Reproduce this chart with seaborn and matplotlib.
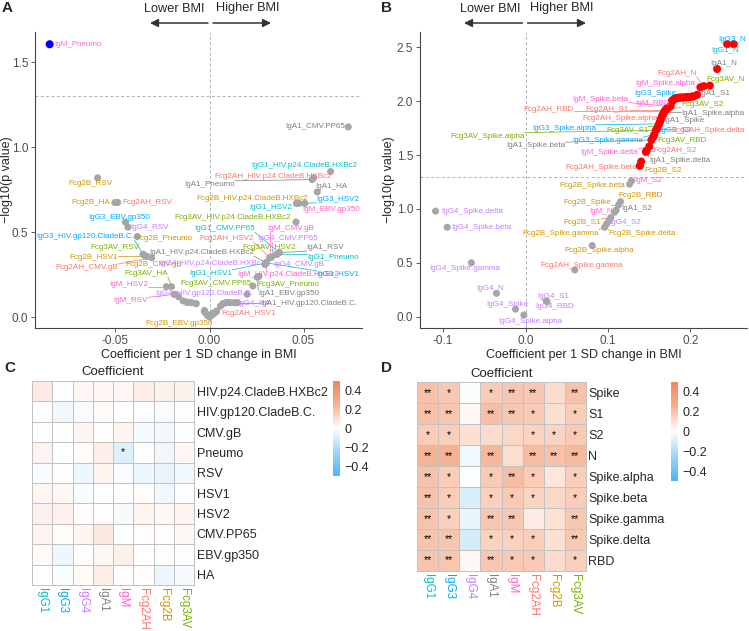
"""Volcano plots + heatmaps: antibody features vs BMI (panels A-D)."""

import matplotlib

matplotlib.use("Agg")
import matplotlib.pyplot as plt
import numpy as np
import pandas as pd
import seaborn as sns
from matplotlib.colors import LinearSegmentedColormap

sns.set_theme(style="white")
plt.rcParams["font.family"] = ["Liberation Sans", "DejaVu Sans"]

W, H = 749, 631

ISOTYPES = ["IgG1", "IgG3", "IgG4", "IgA1", "IgM", "Fcg2AH", "Fcg2B", "Fcg3AV"]
ISO_COLORS = ["#00BFC4", "#00A9FF", "#C77CFF", "#7F7F7F",
              "#FF61CC", "#F8766D", "#CD9600", "#7CAE00"]

# ---- panel A / C : non-SARS antigens ----
ANTIGENS_A = ["HIV.p24.CladeB.HXBc2", "HIV.gp120.CladeB.C.", "CMV.gB", "Pneumo",
              "RSV", "HSV1", "HSV2", "CMV.PP65", "EBV.gp350", "HA"]
COEF_A = [
    [0.0644, 0.0036, -0.0098, 0.0358, -0.0188, 0.0301, 0.0463, 0.0371, 0.0130, -0.0027],
    [-0.0072, -0.0353, 0.0009, -0.0027, 0.0018, 0.0301, 0.0507, 0.0107, -0.0447, -0.0119],
    [0.0295, -0.0164, 0.0321, 0.0072, -0.0434, -0.0140, 0.0089, 0.0331, 0.0000, 0.0148],
    [0.0301, 0.0148, 0.0009, 0.0545, 0.0371, -0.0009, 0.0018, 0.0738, 0.0254, 0.0573],
    [0.0301, -0.0025, 0.0321, -0.0850, -0.0184, 0.0038, -0.0229, -0.0018, 0.0476, 0.0072],
    [0.0554, -0.0096, -0.0308, 0.0000, -0.0488, 0.0058, 0.0321, 0.0090, -0.0009, 0.0108],
    [0.0463, -0.0119, -0.0332, -0.0384, -0.0595, -0.0340, 0.0200, 0.0000, 0.0014, -0.0503],
    [0.0460, 0.0018, -0.0071, 0.0263, -0.0353, 0.0027, 0.0357, 0.0231, 0.0009, -0.0202],
]
LOGP_A = [
    [0.857, 0.035, 0.086, 0.370, 0.135, 0.320, 0.670, 0.380, 0.086, 0.033],
    [0.080, 0.370, 0.010, 0.040, 0.020, 0.320, 0.670, 0.086, 0.560, 0.086],
    [0.310, 0.120, 0.350, 0.080, 0.530, 0.096, 0.086, 0.355, 0.005, 0.086],
    [0.320, 0.086, 0.015, 0.810, 0.380, 0.010, 0.020, 1.120, 0.235, 0.737],
    [0.320, 0.033, 0.350, 1.606, 0.135, 0.035, 0.180, 0.020, 0.670, 0.080],
    [0.820, 0.086, 0.350, 0.005, 0.675, 0.065, 0.350, 0.086, 0.010, 0.086],
    [0.670, 0.090, 0.357, 0.475, 0.820, 0.360, 0.135, 0.003, 0.017, 0.675],
    [0.560, 0.020, 0.080, 0.240, 0.370, 0.025, 0.370, 0.184, 0.010, 0.180],
]

# ---- panel B / D : SARS-CoV-2 antigens ----
ANTIGENS_B = ["Spike", "S1", "S2", "N", "Spike.alpha", "Spike.beta",
              "Spike.gamma", "Spike.delta", "RBD"]
COEF_B = [
    [0.204, 0.200, 0.167, 0.2444, 0.198, 0.195, 0.192, 0.190, 0.188],
    [0.176, 0.186, 0.160, 0.2525, 0.162, 0.164, 0.156, 0.185, 0.184],
    [-0.0121, 0.025, 0.101, -0.0352, -0.002, -0.0949, -0.0657, -0.109, 0.026],
    [0.165, 0.208, 0.110, 0.2323, 0.168, 0.1527, 0.183, 0.146, 0.182],
    [0.181, 0.180, 0.1285, 0.108, 0.212, 0.175, 0.179, 0.150, 0.172],
    [0.178, 0.170, 0.1467, 0.2162, 0.166, 0.1386, 0.0598, 0.159, 0.169],
    [0.113, 0.1034, 0.1402, 0.196, 0.0808, 0.1261, 0.0958, 0.0982, 0.1152],
    [0.2025, 0.161, 0.171, 0.2234, 0.158, 0.163, 0.178, 0.1775, 0.155],
]
LOGP_B = [
    [2.045, 2.040, 1.880, 2.530, 2.040, 2.038, 2.035, 2.035, 2.035],
    [1.960, 2.033, 1.755, 2.530, 1.790, 1.830, 1.690, 2.032, 2.031],
    [0.070, 0.146, 0.890, 0.217, 0.016, 0.830, 0.500, 0.980, 0.140],
    [1.850, 2.060, 0.990, 2.300, 1.900, 1.640, 2.030, 1.530, 2.030],
    [2.025, 2.020, 1.260, 0.970, 2.130, 1.950, 2.010, 1.580, 1.935],
    [2.005, 1.920, 1.540, 2.140, 1.870, 1.400, 0.434, 1.740, 1.910],
    [1.040, 0.920, 1.440, 2.040, 0.660, 1.230, 0.830, 0.860, 1.068],
    [2.045, 1.770, 1.930, 2.145, 1.730, 1.810, 2.003, 2.001, 1.670],
]

# label placement (repel result), data coords of the label centre
LABEL_POS_A = {
    "IgM_Pneumo": (-0.0701, 1.602),
    "IgA1_CMV.PP65": (0.0564, 1.12),
    "IgG1_HIV.p24.CladeB.HXBc2": (0.0505, 0.89),
    "Fcg2AH_HIV.p24.CladeB.HXBc2": (0.0339, 0.831),
    "IgA1_Pneumo": (0.0002, 0.782),
    "IgA1_HA": (0.0647, 0.768),
    "Fcg2B_RSV": (-0.0633, 0.786),
    "Fcg2B_HA": (-0.0629, 0.675),
    "Fcg2AH_RSV": (-0.0332, 0.675),
    "Fcg2B_HIV.p24.CladeB.HXBc2": (0.0227, 0.698),
    "IgG3_HSV2": (0.0683, 0.694),
    "IgG1_HSV2": (0.0328, 0.645),
    "IgM_EBV.gp350": (0.0646, 0.635),
    "IgG3_EBV.gp350": (-0.0479, 0.586),
    "Fcg3AV_HIV.p24.CladeB.HXBc2": (0.0121, 0.586),
    "IgG4_RSV": (-0.0317, 0.527),
    "IgG1_CMV.PP65": (0.0080, 0.521),
    "IgM_CMV.gB": (0.0431, 0.521),
    "IgG3_HIV.gp120.CladeB.C.": (-0.0660, 0.475),
    "Fcg2B_Pneumo": (-0.0243, 0.463),
    "Fcg2AH_HSV2": (0.0089, 0.463),
    "IgG4_CMV.PP65": (0.0418, 0.463),
    "Fcg3AV_RSV": (-0.0501, 0.41),
    "IgA1_HIV.p24.CladeB.HXBc2": (-0.0043, 0.38),
    "Fcg3AV_HSV2": (0.0316, 0.41),
    "IgA1_RSV": (0.0617, 0.41),
    "Fcg2B_HSV1": (-0.0616, 0.351),
    "IgG1_Pneumo": (0.0656, 0.351),
    "Fcg2AH_CMV.gB": (-0.0654, 0.292),
    "Fcg2B_CMV.gB": (-0.0299, 0.312),
    "IgG4_HIV.p24.CladeB.HXBc2": (0.0014, 0.318),
    "IgG4_CMV.gB": (0.0476, 0.312),
    "IgG1_HSV1": (0.0009, 0.259),
    "IgM_HIV.p24.CladeB.HXBc2": (0.0418, 0.253),
    "IgG3_HSV1": (0.0683, 0.253),
    "Fcg3AV_HA": (-0.0337, 0.257),
    "Fcg3AV_CMV.PP65": (0.0032, 0.200),
    "Fcg3AV_Pneumo": (0.0422, 0.194),
    "IgM_HSV2": (-0.0429, 0.194),
    "IgG4_HIV.gp120.CladeB.C.": (-0.0027, 0.141),
    "IgA1_EBV.gp350": (0.0421, 0.139),
    "IgM_RSV": (-0.0420, 0.096),
    "IgG4_HA": (0.0236, 0.082),
    "IgA1_HIV.gp120.CladeB.C.": (0.0528, 0.082),
    "Fcg2AH_HSV1": (0.0209, 0.021),
    "Fcg2B_EBV.gp350": (-0.0160, -0.037),
}
LABEL_POS_B = {
    "IgG3_N": (0.2500, 2.575),
    "IgG1_N": (0.2424, 2.467),
    "IgA1_N": (0.240, 2.35),
    "Fcg2AH_N": (0.1836, 2.26),
    "Fcg3AV_N": (0.2430, 2.198),
    "IgM_Spike.alpha": (0.1697, 2.166),
    "IgA1_S1": (0.230, 2.074),
    "IgG3_Spike": (0.1576, 2.074),
    "IgM_Spike.beta": (0.0909, 2.021),
    "IgM_RBD": (0.1535, 1.981),
    "Fcg3AV_S2": (0.2141, 1.974),
    "Fcg2AH_RBD": (0.0283, 1.925),
    "Fcg2AH_S1": (0.0990, 1.925),
    "IgA1_Spike.alpha": (0.2265, 1.888),
    "Fcg2AH_Spike.alpha": (0.115, 1.842),
    "IgA1_Spike": (0.1919, 1.82),
    "IgG3_Spike.alpha": (0.0465, 1.749),
    "Fcg3AV_S1": (0.1232, 1.733),
    "IgG3_S2": (0.1818, 1.733),
    "Fcg2AH_Spike.delta": (0.2215, 1.733),
    "Fcg3AV_Spike.alpha": (-0.0465, 1.677),
    "IgG3_Spike.gamma": (0.0994, 1.634),
    "Fcg3AV_RBD": (0.1899, 1.634),
    "IgA1_Spike.beta": (0.0121, 1.588),
    "IgM_Spike.delta": (0.1010, 1.523),
    "Fcg2AH_S2": (0.1818, 1.542),
    "IgA1_Spike.delta": (0.1867, 1.449),
    "Fcg2AH_Spike.beta": (0.0921, 1.387),
    "Fcg2B_S2": (0.1665, 1.353),
    "IgM_S2": (0.1487, 1.260),
    "Fcg2B_Spike.beta": (0.0808, 1.217),
    "Fcg2B_RBD": (0.1394, 1.121),
    "Fcg2B_Spike": (0.0747, 1.059),
    "IgA1_S2": (0.1354, 1.007),
    "IgM_N": (0.0921, 0.976),
    "Fcg2B_S1": (0.0687, 0.873),
    "IgG4_S2": (0.1212, 0.873),
    "Fcg2B_Spike.gamma": (0.0424, 0.774),
    "Fcg2B_Spike.delta": (0.1414, 0.768),
    "Fcg2B_Spike.alpha": (0.0889, 0.613),
    "Fcg2AH_Spike.gamma": (0.0679, 0.473),
    "IgG4_Spike.delta": (-0.0646, 0.976),
    "IgG4_Spike.beta": (-0.0533, 0.827),
    "IgG4_Spike.gamma": (-0.0735, 0.449),
    "IgG4_N": (-0.0424, 0.263),
    "IgG4_Spike": (-0.0222, 0.117),
    "IgG4_S1": (0.0331, 0.191),
    "IgG4_RBD": (0.0356, 0.092),
    "IgG4_Spike.alpha": (0.006, -0.046),
}

SIG = -np.log10(0.05)
STATUS_COLORS = {"up": "#FF0000", "down": "#0000FF", "ns": "#A6A6A6"}
STATUS_SIZES = {"up": 34, "down": 34, "ns": 26}
CMAP = LinearSegmentedColormap.from_list(
    "bmi", [(0.0, "#4DB6F4"), (0.25, "#9DD3F5"), (0.5, "#FFFFFF"),
            (0.75, "#F6B294"), (1.0, "#F4845C")])
AXCOL = "#4D4D4D"
LABEL_FS = 5.8


def fx(px):
    return px / W


def fy(py):
    return 1 - py / H


def long_table(coef, logp, antigens):
    rows = []
    for i, iso in enumerate(ISOTYPES):
        for j, ag in enumerate(antigens):
            c, lp = coef[i][j], logp[i][j]
            status = "ns"
            if lp > SIG:
                status = "up" if c > 0 else "down"
            rows.append({"name": f"{iso}_{ag}", "iso": iso, "coef": c,
                         "logp": lp, "status": status})
    return pd.DataFrame(rows).set_index("name", drop=False)


def draw_volcano(ax, df, label_pos, xlim, ylim, xticks, yticks, ylab_x):
    ax.axhline(SIG, color="#A9B1BC", lw=0.7, ls=(0, (3, 2.5)), zorder=0)
    ax.axvline(0, color="#A9B1BC", lw=0.7, ls=(0, (3, 2.5)), zorder=0)
    sns.scatterplot(data=df, x="coef", y="logp", hue="status", size="status",
                    palette=STATUS_COLORS, sizes=STATUS_SIZES, linewidth=0,
                    legend=False, ax=ax, zorder=3)
    texts = []
    for name, (tx, ty) in label_pos.items():
        iso = df.loc[name, "iso"]
        col = ISO_COLORS[ISOTYPES.index(iso)]
        t = ax.text(tx, ty, name, fontsize=LABEL_FS, color=col, ha="center",
                    va="center", zorder=4)
        texts.append((t, name, col))
    ax.set_xlim(*xlim)
    ax.set_ylim(*ylim)
    ax.set_xticks(xticks)
    ax.set_yticks(yticks)
    ax.set_xlabel("Coefficient per 1 SD change in BMI", fontsize=9, labelpad=1)
    ax.set_ylabel("\u2212log10(p value)", fontsize=9)
    ax.yaxis.set_label_coords(ylab_x, 0.5)
    for s in ["top", "right"]:
        ax.spines[s].set_visible(False)
    for s in ["left", "bottom"]:
        ax.spines[s].set_color("#444444")
        ax.spines[s].set_linewidth(0.8)
    ax.tick_params(length=3, width=0.6, color="#444444", labelcolor=AXCOL,
                   labelsize=8.5, pad=2, bottom=True, left=True)
    return texts


def leader_lines(fig, ax, df, texts):
    renderer = fig.canvas.get_renderer()
    inv = ax.transData.inverted()
    for t, name, col in texts:
        bb = t.get_window_extent(renderer)
        px, py = ax.transData.transform((df.loc[name, "coef"], df.loc[name, "logp"]))
        cx = min(max(px, bb.x0), bb.x1)
        cy = min(max(py, bb.y0), bb.y1)
        if np.hypot(cx - px, cy - py) < 6:
            continue
        (x0, y0), (x1, y1) = inv.transform([(px, py), (cx, cy)])
        ax.plot([x0, x1], [y0, y1], color=col, lw=0.5, zorder=2)


def draw_heat(ax, cax, coef, logp, antigens):
    mat = pd.DataFrame(np.array(coef).T, index=antigens, columns=ISOTYPES)
    lp = np.array(logp).T
    stars = np.where(lp > 2, "**", np.where(lp > SIG, "*", ""))
    sns.heatmap(mat, ax=ax, cbar_ax=cax, cmap=CMAP, vmin=-0.5, vmax=0.5,
                linewidths=0.7, linecolor="#C2C2C2", annot=stars, fmt="",
                annot_kws={"fontsize": 7.5, "color": "black"})
    ax.set_title("Coefficient", fontsize=9.5, pad=4)
    ax.set_xlabel("")
    ax.set_ylabel("")
    ax.yaxis.tick_right()
    ax.set_yticklabels(antigens, rotation=0, fontsize=9)
    ax.set_xticklabels(ISOTYPES, rotation=270, fontsize=8.3, va="top", ha="center")
    for lab, col in zip(ax.get_xticklabels(), ISO_COLORS):
        lab.set_color(col)
    ax.tick_params(length=0, pad=2)
    for sp in ax.spines.values():
        sp.set_visible(True)
        sp.set_color("#C2C2C2")
        sp.set_linewidth(0.7)
    cbar = ax.collections[0].colorbar
    cbar.outline.set_visible(False)
    cbar.set_ticks([0.4, 0.2, 0, -0.2, -0.4])
    cbar.set_ticklabels(["0.4", "0.2", "0", "\u22120.2", "\u22120.4"])
    cbar.ax.tick_params(length=0, labelsize=9, pad=3)


def bmi_arrows(fig, lower_c, higher_c, left, mid, right, y_text=8.5, y_arrow=23):
    gap = 2.5
    fig.text(fx(lower_c), fy(y_text), "Lower BMI", ha="center", va="center",
             fontsize=9.2)
    fig.text(fx(higher_c), fy(y_text), "Higher BMI", ha="center", va="center",
             fontsize=9.2)
    style = dict(arrowstyle="-|>", color="#333333", lw=1.1, mutation_scale=12,
                 shrinkA=0, shrinkB=0)
    fig.add_artist(matplotlib.patches.FancyArrowPatch(
        (fx(mid - gap), fy(y_arrow)), (fx(left), fy(y_arrow)),
        transform=fig.transFigure, **style))
    fig.add_artist(matplotlib.patches.FancyArrowPatch(
        (fx(mid + gap), fy(y_arrow)), (fx(right), fy(y_arrow)),
        transform=fig.transFigure, **style))


def main():
    fig = plt.figure(figsize=(W / 100, H / 100), dpi=100)

    ax_a = fig.add_axes([fx(35), fy(328.3), fx(327), 296.6 / H])
    ax_b = fig.add_axes([fx(420), fy(328.3), fx(327), 296.6 / H])
    ax_c = fig.add_axes([fx(32), fy(585), fx(162), 204 / H])
    cax_c = fig.add_axes([fx(333), fy(476), fx(7), 95 / H])
    ax_d = fig.add_axes([fx(417.3), fy(571), fx(168.4), 188.7 / H])
    cax_d = fig.add_axes([fx(671), fy(481), fx(7), 99 / H])

    df_a = long_table(COEF_A, LOGP_A, ANTIGENS_A)
    df_b = long_table(COEF_B, LOGP_B, ANTIGENS_B)

    texts_a = draw_volcano(ax_a, df_a, LABEL_POS_A, (-0.0928, 0.0811),
                           (-0.065, 1.68), [-0.05, 0, 0.05], [0, 0.5, 1.0, 1.5],
                           -0.068)
    texts_b = draw_volcano(ax_b, df_b, LABEL_POS_B, (-0.1279, 0.2685),
                           (-0.108, 2.646), [-0.1, 0, 0.1, 0.2],
                           [0, 0.5, 1.0, 1.5, 2.0, 2.5], -0.077)
    ax_a.xaxis.set_major_formatter(matplotlib.ticker.FormatStrFormatter("%.2f"))
    ax_b.xaxis.set_major_formatter(matplotlib.ticker.FormatStrFormatter("%.1f"))
    for ax in (ax_a, ax_b):
        ax.yaxis.set_major_formatter(matplotlib.ticker.FormatStrFormatter("%.1f"))

    draw_heat(ax_c, cax_c, COEF_A, LOGP_A, ANTIGENS_A)
    draw_heat(ax_d, cax_d, COEF_B, LOGP_B, ANTIGENS_B)

    bmi_arrows(fig, 174, 247.5, 150, 210.5, 271)
    bmi_arrows(fig, 490, 562, 464, 525, 586)

    for letter, (px, py) in {"A": (7, 8), "B": (387, 8), "C": (10, 368),
                             "D": (387, 368)}.items():
        fig.text(fx(px), fy(py), letter, fontsize=11, fontweight="bold",
                 ha="center", va="center")

    fig.canvas.draw()
    leader_lines(fig, ax_a, df_a, texts_a)
    leader_lines(fig, ax_b, df_b, texts_b)

    fig.savefig("out.png", dpi=100)


if __name__ == "__main__":
    main()
